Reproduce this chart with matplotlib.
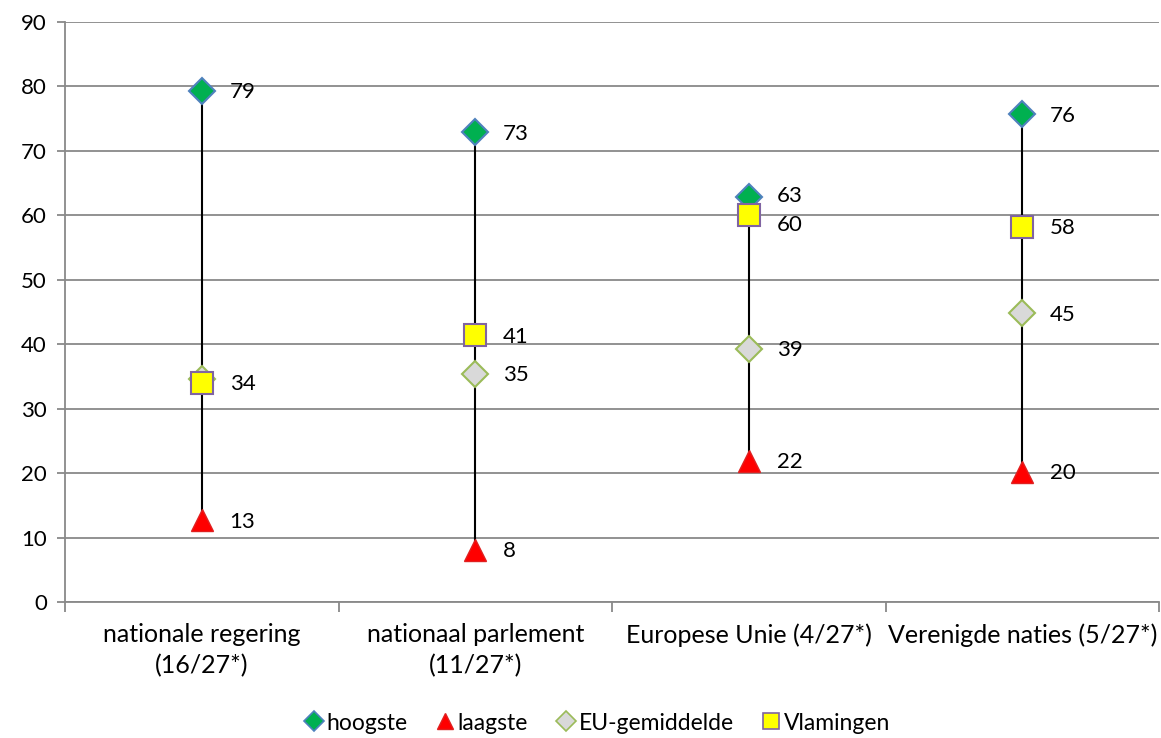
import matplotlib
matplotlib.use("Agg")
import matplotlib.pyplot as plt
from matplotlib.lines import Line2D

plt.rcParams['font.family'] = ['Lato', 'DejaVu Sans']

categories = ["nationale regering\n(16/27*)", "nationaal parlement\n(11/27*)",
              "Europese Unie (4/27*)", "Verenigde naties (5/27*)"]
hoogste = [79.3, 72.9, 62.8, 75.7]
laagste = [12.7, 8.1, 21.9, 20.2]
eu_gem = [34.6, 35.4, 39.3, 44.8]
vlamingen = [34.0, 41.4, 60.0, 58.2]
show_eu_label = [False, True, True, True]

fig = plt.figure(figsize=(11.61, 7.38), dpi=100)
ax = fig.add_axes([65/1161, 1-602/738, (1159-65)/1161, (602-22)/738])

x = list(range(len(categories)))
ax.set_xlim(-0.5, len(categories) - 0.5)
ax.set_ylim(0, 90)
ax.set_yticks(range(0, 91, 10))
ax.yaxis.grid(True, color='#898989', linewidth=1.3)
ax.set_axisbelow(True)
for s in ['top', 'right']:
    ax.spines[s].set_visible(False)
for s in ['left', 'bottom']:
    ax.spines[s].set_color('#898989')
    ax.spines[s].set_linewidth(1.3)
ax.tick_params(axis='y', length=6, color='#898989', width=1.3, labelsize=16, pad=7)
ax.set_xticks([i - 0.5 for i in range(len(categories) + 1)])
ax.set_xticklabels([])
ax.tick_params(axis='x', length=7, color='#898989', width=1.3)
for i, c in enumerate(categories):
    ax.text(i, -3.3, c, ha='center', va='top', fontsize=18, linespacing=1.4)

for i in x:
    ax.plot([i, i], [laagste[i], hoogste[i]], color='black', lw=1.5, zorder=2)

ms = 16
ax.plot(x, hoogste, ls='none', marker='D', ms=ms*0.85, mfc='#00B050', mec='#4F81BD', mew=1.5, zorder=3)
ax.plot(x, laagste, ls='none', marker='^', ms=ms, mfc='#FF0000', mec='#E02020', mew=1, zorder=4)
ax.plot(x, eu_gem, ls='none', marker='D', ms=ms*0.85, mfc='#D9D9D9', mec='#9BBB59', mew=1.5, zorder=5)
ax.plot(x, vlamingen, ls='none', marker='s', ms=ms, mfc='#FFFF00', mec='#8064A2', mew=1.5, zorder=6)

def lab(xx, yy, dy=-1):
    ax.annotate(f"{round(yy)}", (xx, yy), xytext=(20, dy), textcoords='offset points',
                va='center', ha='left', fontsize=16)

for i in x:
    # keep close labels apart (as in the reference: high label nudged up, Vlamingen down)
    close = abs(hoogste[i] - vlamingen[i]) < 5
    lab(i, hoogste[i], 1 if close else -1)
    lab(i, laagste[i])
    if show_eu_label[i]:
        lab(i, eu_gem[i])
    lab(i, vlamingen[i], -7 if close else -1)

handles = [
    Line2D([], [], ls='none', marker='D', ms=10, mfc='#00B050', mec='#4F81BD', mew=1.2),
    Line2D([], [], ls='none', marker='^', ms=12, mfc='#FF0000', mec='#E02020'),
    Line2D([], [], ls='none', marker='D', ms=10, mfc='#D9D9D9', mec='#9BBB59', mew=1.2),
    Line2D([], [], ls='none', marker='s', ms=12, mfc='#FFFF00', mec='#8064A2', mew=1.2),
]
fig.legend(handles, ["hoogste", "laagste", "EU-gemiddelde", "Vlamingen"], loc='center',
           bbox_to_anchor=(598/1161, 1-723/738), ncol=4, frameon=False, fontsize=16.5,
           handlelength=0.7, handletextpad=0.2, columnspacing=1.3)

fig.savefig("out.png", dpi=100)
